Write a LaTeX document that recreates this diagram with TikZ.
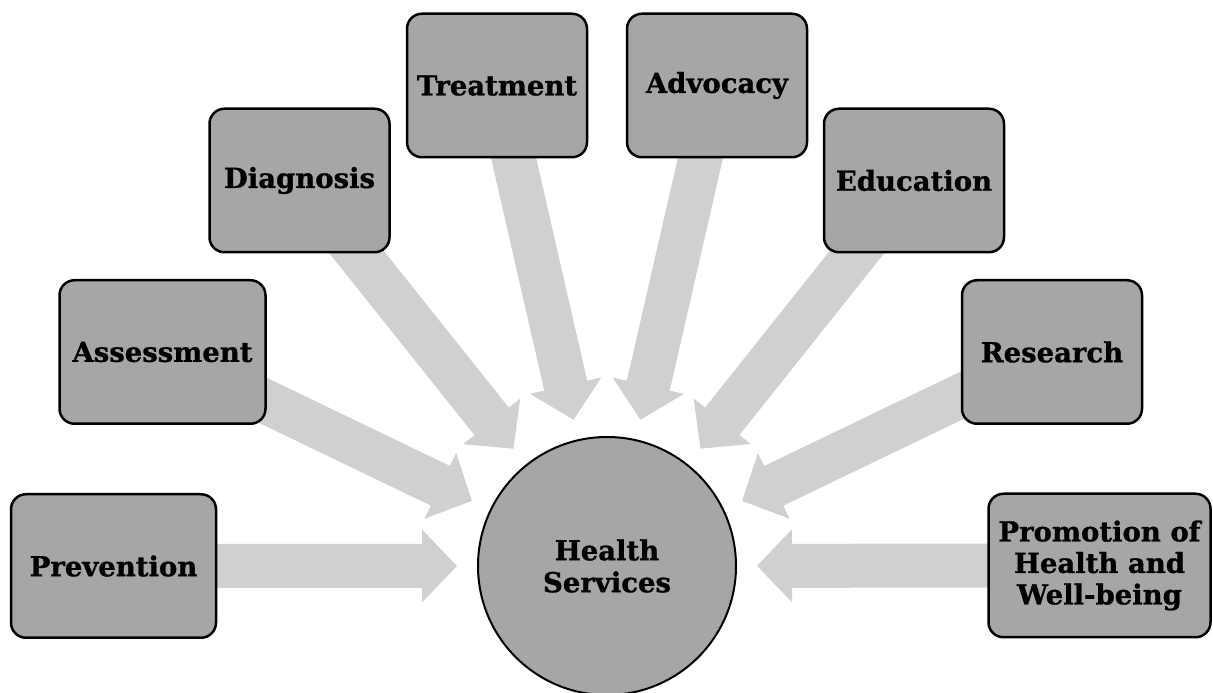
\documentclass[tikz,border=0pt]{standalone}
\usepackage{fontspec}
\setmainfont{DejaVu Serif}[BoldFeatures={FakeBold=1}]
\usetikzlibrary{calc}
\definecolor{boxgray}{HTML}{A6A6A6}
\definecolor{arrgray}{HTML}{D0D0D0}
\tikzset{
  box/.style={draw=black, line width=2.5pt, fill=boxgray, rounded corners=15pt,
    minimum height=143.5pt, minimum width=180pt, align=center, inner sep=0pt,
    font=\bfseries\fontsize{27.5}{31.5}\selectfont},
  hub/.style={circle, draw=black, line width=2pt, fill=boxgray, minimum size=258pt,
    align=center, inner sep=0pt, font=\bfseries\fontsize{27.5}{32}\selectfont},
  blockarrow/.style={fill=arrgray, draw=none}
}
\newcommand\feedarrow[1]{%
  \path (#1.center) coordinate (s);
  \path ($(hs.center)!150pt!(#1.center)$) coordinate (t);
  \path ($(t)!35pt!(s)$) coordinate (hb);
  \fill[blockarrow] ($(s)!22pt!90:(t)$) -- ($(hb)!22pt!90:(t)$) -- ($(hb)!36.5pt!90:(t)$)
    -- (t) -- ($(hb)!36.5pt!-90:(t)$) -- ($(hb)!22pt!-90:(t)$) -- ($(s)!22pt!-90:(t)$) -- cycle;}
\begin{document}
\begin{tikzpicture}[x=1pt,y=1pt]
\useasboundingbox (0,0) rectangle (1213,693);
% anchors (for arrows)
\coordinate (hs) at (607,127);
\coordinate (prev) at (113.5,127);
\coordinate (asse) at (162.5,341);
\coordinate (diag) at (299.5,512.5);
\coordinate (trea) at (497,607.5);
\coordinate (advo) at (717,607.5);
\coordinate (educ) at (914,512.5);
\coordinate (rese) at (1052,341);
\coordinate (prom) at (1099.5,127.5);
\foreach \b in {prev,asse,diag,trea,advo,educ,rese,prom}{\feedarrow{\b}}
% nodes
\node[hub] (hsn) at (hs) {Health\\Services};
\node[box, minimum width=205pt] (prevn) at (prev) {Prevention};
\node[box, minimum width=206pt] (assen) at (asse) {Assessment};
\node[box] (diagn) at (diag) {Diagnosis};
\node[box] (trean) at (trea) {Treatment};
\node[box] (advon) at (advo) {Advocacy};
\node[box] (educn) at (educ) {Education};
\node[box] (resen) at (rese) {Research};
\node[box, minimum width=222pt] (promn) at (prom) {Promotion of\\Health and\\Well-being};
\end{tikzpicture}
\end{document}
